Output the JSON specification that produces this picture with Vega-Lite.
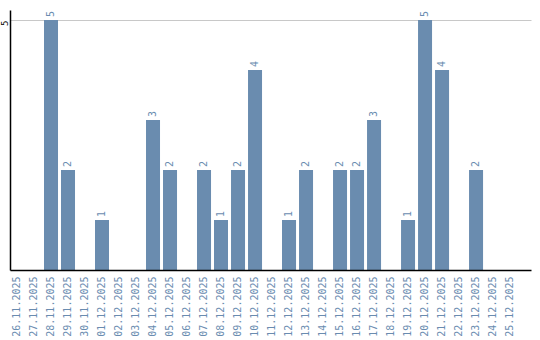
{
  "$schema": "https://vega.github.io/schema/vega-lite/v6.json",
  "autosize": "none",
  "padding": {"left": 10, "top": 10, "right": 9, "bottom": 70},
  "width": 521,
  "height": 260,
  "background": "white",
  "config": {"view": {"stroke": null}},
  "data": {"values": [
    {"date": "28.11.2025", "count": 5},
    {"date": "29.11.2025", "count": 2},
    {"date": "01.12.2025", "count": 1},
    {"date": "04.12.2025", "count": 3},
    {"date": "05.12.2025", "count": 2},
    {"date": "07.12.2025", "count": 2},
    {"date": "08.12.2025", "count": 1},
    {"date": "09.12.2025", "count": 2},
    {"date": "10.12.2025", "count": 4},
    {"date": "12.12.2025", "count": 1},
    {"date": "13.12.2025", "count": 2},
    {"date": "15.12.2025", "count": 2},
    {"date": "16.12.2025", "count": 2},
    {"date": "17.12.2025", "count": 3},
    {"date": "19.12.2025", "count": 1},
    {"date": "20.12.2025", "count": 5},
    {"date": "21.12.2025", "count": 4},
    {"date": "23.12.2025", "count": 2}
  ]},
  "encoding": {
    "x": {
      "field": "date", "type": "nominal", "sort": null,
      "scale": {
        "domain": ["26.11.2025","27.11.2025","28.11.2025","29.11.2025","30.11.2025","01.12.2025","02.12.2025","03.12.2025","04.12.2025","05.12.2025","06.12.2025","07.12.2025","08.12.2025","09.12.2025","10.12.2025","11.12.2025","12.12.2025","13.12.2025","14.12.2025","15.12.2025","16.12.2025","17.12.2025","18.12.2025","19.12.2025","20.12.2025","21.12.2025","22.12.2025","23.12.2025","24.12.2025","25.12.2025"],
        "paddingInner": 0.176, "paddingOuter": 0.41, "align": 0
      },
      "axis": {
        "title": null, "labelAngle": 270, "labelAlign": "right", "labelBaseline": "middle",
        "labelFont": "DejaVu Sans Mono", "labelFontSize": 10, "labelColor": "#6a8cb0",
        "ticks": false, "labelPadding": 6, "domainColor": "#000000", "domainWidth": 1.5,
        "grid": false, "zindex": 1
      }
    },
    "y": {
      "field": "count", "type": "quantitative",
      "scale": {"domain": [0, 5.2], "nice": false},
      "axis": {
        "title": null, "values": [5], "ticks": false, "labelAngle": 270,
        "labelAlign": "right", "labelBaseline": "bottom", "labelPadding": 1,
        "labelFont": "DejaVu Sans Mono", "labelFontSize": 9, "labelColor": "#000000",
        "domainColor": "#000000", "domainWidth": 1.5,
        "grid": true, "gridColor": "#c8c8c8", "gridWidth": 1
      }
    }
  },
  "layer": [
    {"mark": {"type": "bar", "color": "#6a8caf"}},
    {
      "mark": {"type": "text", "angle": 270, "align": "left", "baseline": "middle", "dx": 3,
               "font": "DejaVu Sans Mono", "fontSize": 10, "color": "#6a8cb0"},
      "encoding": {"text": {"field": "count", "type": "quantitative"}}
    }
  ]
}
